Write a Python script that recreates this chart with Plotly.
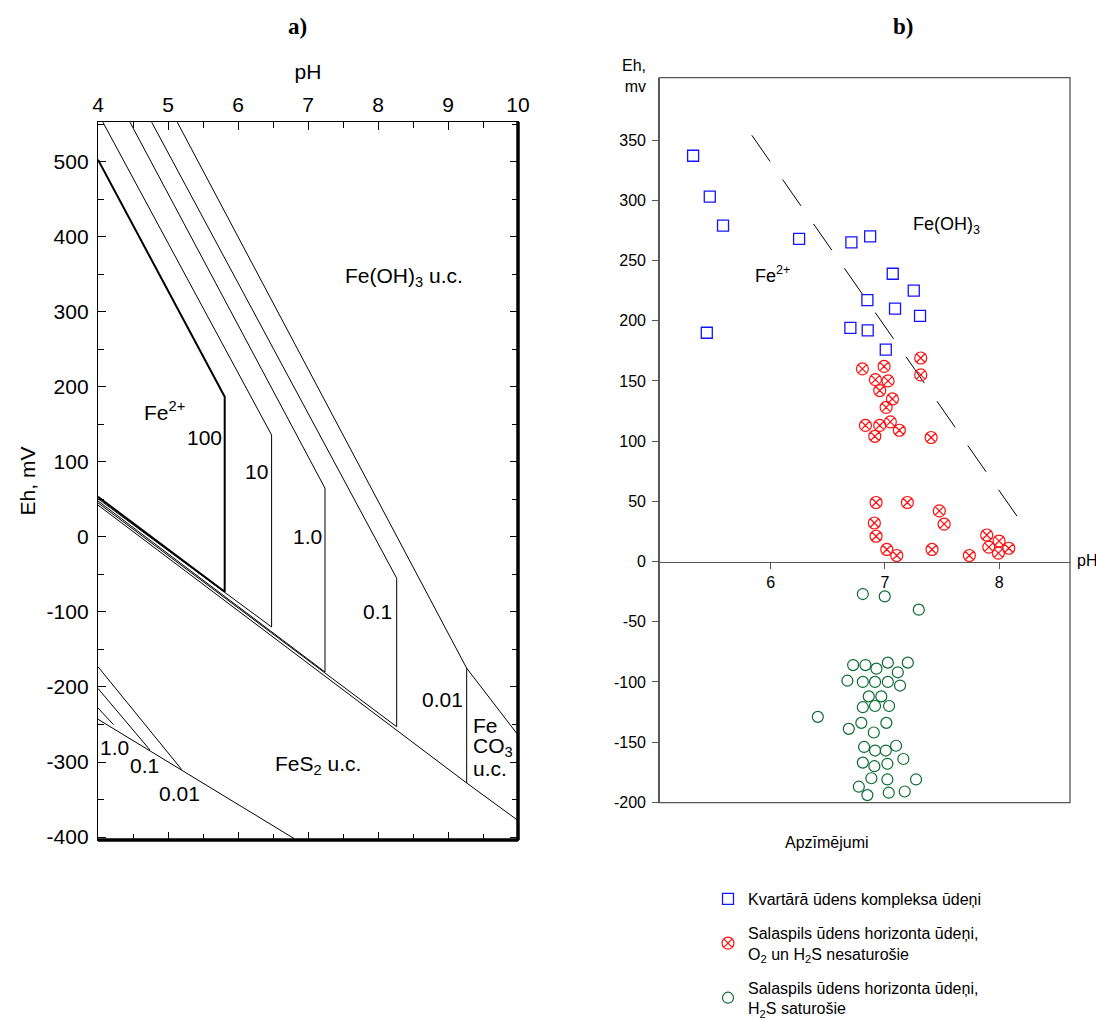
import plotly.graph_objects as go

W, H = 1096, 1019

# ---------------- Panel a) data ----------------
conc_labels = ["100", "10", "1.0", "0.1", "0.01"]
upper_start_ph = [4.0, 4.07, 4.457, 4.767, 5.133]
upper_start_eh = [503, 553, 553, 553, 553]
corner_ph = [5.81, 6.48, 7.243, 8.267, 9.267]
corner_eh = [187, 136, 65, -55, -175]
bottom_eh = [-73, -120, -180, -253, -328]
lower_start_eh = [53.5, 51, 48, 45.5, 42.5]

feco3_ph = [9.267, 10.0]
feco3_upper_eh = [-175, -264]
feco3_lower_eh = [-328, -378]

sulf_labels = ["0.01", "0.1", "1.0"]
sulf_start_eh = [-173, -202, -228]
sulf_end_ph = [5.195, 4.743, 4.22]
sulf_end_eh = [-310, -284, -250]
pyrite_ph = [4.0, 6.80]
pyrite_eh = [-243, -402]

# ---------------- Panel b) data ----------------
kv_ph = [5.32, 5.466, 5.582, 6.248, 6.706, 6.87, 7.068, 7.252, 6.846, 7.088,
         7.307, 6.697, 6.849, 5.44, 7.007]
kv_eh = [337, 303, 279, 268, 265, 270, 239, 225, 217, 210,
         204, 194, 192, 190, 176]

sal1_ph = [7.313, 6.802, 6.992, 7.313, 6.916, 7.027, 6.954, 7.065, 7.01, 6.829,
           6.954, 7.047, 7.126, 6.911, 7.404, 6.922, 7.196, 7.476, 6.907, 7.518,
           6.922, 7.891, 7.999, 7.909, 8.084, 7.016, 7.412, 7.993, 7.103, 7.739]
sal1_eh = [169, 160, 162, 155, 151, 150, 142, 135, 128, 113,
           113, 116, 109, 104, 103, 49, 49, 42, 32, 31,
           21, 22, 17, 12, 11, 10, 10, 7, 5, 5]

sal2_ph = [6.806, 6.998, 7.296, 6.721, 6.829, 7.025, 7.2, 6.925, 7.112, 6.671,
           6.806, 6.913, 7.025, 7.132, 6.858, 6.968, 6.806, 6.913, 7.036, 6.412,
           6.793, 7.012, 6.683, 6.902, 6.817, 7.097, 6.913, 7.007, 7.161, 6.806,
           7.021, 6.907, 6.881, 7.021, 7.272, 6.771, 7.033, 7.173, 6.846]
sal2_eh = [-27, -29, -40, -86, -86, -84, -84, -89, -92, -99,
           -100, -100, -100, -103, -112, -112, -121, -120, -120, -129,
           -134, -134, -139, -142, -154, -153, -157, -157, -164, -167,
           -168, -170, -180, -181, -181, -187, -192, -191, -194]

boundary_ph = [5.834, 8.212]
boundary_eh = [354, 30]

xticks_a = [4, 5, 6, 7, 8, 9, 10]
yticks_a = [-400, -300, -200, -100, 0, 100, 200, 300, 400, 500]
xticks_b = [6, 7, 8]
yticks_b = [-200, -150, -100, -50, 0, 50, 100, 150, 200, 250, 300, 350]

SANS = "Liberation Sans, Arial, sans-serif"
SERIF = "Liberation Serif, Times New Roman, serif"

fig = go.Figure()

# ---- panel a lines ----
for i in range(len(conc_labels)):
    fig.add_trace(go.Scatter(
        x=[upper_start_ph[i], corner_ph[i], corner_ph[i], 4.0],
        y=[upper_start_eh[i], corner_eh[i], bottom_eh[i], lower_start_eh[i]],
        mode="lines", line=dict(color="black", width=2 if i == 0 else 1),
        xaxis="x", yaxis="y", showlegend=False, hoverinfo="skip"))
fig.add_trace(go.Scatter(x=feco3_ph, y=feco3_upper_eh, mode="lines",
                         line=dict(color="black", width=1), xaxis="x", yaxis="y",
                         showlegend=False, hoverinfo="skip"))
fig.add_trace(go.Scatter(x=[corner_ph[-1]] + feco3_ph[1:], y=[bottom_eh[-1]] + feco3_lower_eh[1:],
                         mode="lines", line=dict(color="black", width=1), xaxis="x", yaxis="y",
                         showlegend=False, hoverinfo="skip"))
for i in range(len(sulf_labels)):
    fig.add_trace(go.Scatter(x=[4.0, sulf_end_ph[i]], y=[sulf_start_eh[i], sulf_end_eh[i]],
                             mode="lines", line=dict(color="black", width=1),
                             xaxis="x", yaxis="y", showlegend=False, hoverinfo="skip"))
fig.add_trace(go.Scatter(x=pyrite_ph, y=pyrite_eh, mode="lines",
                         line=dict(color="black", width=1), xaxis="x", yaxis="y",
                         showlegend=False, hoverinfo="skip"))

# ---- panel b ----
fig.add_trace(go.Scatter(x=boundary_ph, y=boundary_eh, mode="lines",
                         line=dict(color="black", width=1, dash="32px,22px"),
                         xaxis="x2", yaxis="y2", showlegend=False, hoverinfo="skip"))
fig.add_trace(go.Scatter(x=kv_ph, y=kv_eh, mode="markers", xaxis="x2", yaxis="y2",
                         name="Kvartārā ūdens kompleksa ūdeņi", legendgroup="a",
                         marker=dict(symbol="square-open", size=11, color="#1414ff",
                                     line=dict(width=1.3, color="#1414ff"))))
fig.add_trace(go.Scatter(x=sal1_ph, y=sal1_eh, mode="markers", xaxis="x2", yaxis="y2",
                         name="Salaspils ūdens horizonta ūdeņi,<br>O<sub>2</sub> un H<sub>2</sub>S nesaturošie",
                         legendgroup="b",
                         marker=dict(symbol="circle-x-open", size=12, color="#ff1010",
                                     line=dict(width=1.2, color="#ff1010"))))
fig.add_trace(go.Scatter(x=sal2_ph, y=sal2_eh, mode="markers", xaxis="x2", yaxis="y2",
                         name="Salaspils ūdens horizonta ūdeņi,<br>H<sub>2</sub>S saturošie",
                         legendgroup="c",
                         marker=dict(symbol="circle-open", size=11, color="#0b6b35",
                                     line=dict(width=1.2, color="#0b6b35"))))

def px(xp):
    return xp / W

def py(yp):
    return 1 - yp / H

def lab(v):
    return str(v)

fig.update_layout(
    width=W, height=H, autosize=False,
    margin=dict(l=0, r=0, t=0, b=0, autoexpand=False),
    paper_bgcolor="white", plot_bgcolor="white",
    font=dict(family=SANS, color="black"),
    xaxis=dict(domain=[px(98), px(518)], range=[4, 10], side="top", anchor="y",
               tickvals=xticks_a, ticktext=[lab(v) for v in xticks_a],
               ticks="inside", ticklen=8, tickwidth=1, tickcolor="black",
               minor=dict(dtick=0.5, tick0=4, ticks="inside", ticklen=6, tickcolor="black"),
               showline=True, linecolor="black", linewidth=1.3, mirror="ticks",
               showgrid=False, zeroline=False, tickfont=dict(size=21),
               title=dict(text="pH", font=dict(size=21), standoff=8), automargin=False),
    yaxis=dict(domain=[py(840), py(122)], range=[-404, 553.3], anchor="x",
               tickvals=yticks_a, ticktext=[lab(v) for v in yticks_a],
               ticks="inside", ticklen=8, tickwidth=1, tickcolor="black",
               minor=dict(dtick=50, tick0=0, ticks="inside", ticklen=6, tickcolor="black"),
               showline=True, linecolor="black", linewidth=1.3, mirror="ticks",
               showgrid=False, zeroline=False, tickfont=dict(size=21), ticklabelstandoff=4,
               title=dict(text="Eh, mV", font=dict(size=21), standoff=5), automargin=False),
    xaxis2=dict(domain=[px(659.3), px(1070)], range=[5.024, 8.62], anchor="free",
                position=py(561.6), tickvals=xticks_b, ticktext=[lab(v) for v in xticks_b],
                ticks="outside", ticklen=6,
                tickcolor="#555", showline=True, linecolor="#555", linewidth=1.3,
                showgrid=False, zeroline=False, tickfont=dict(size=16), automargin=False),
    yaxis2=dict(domain=[py(802.7), py(77.7)], range=[-200.3, 401.8], anchor="x2",
                tickvals=yticks_b, ticktext=[lab(v) for v in yticks_b],
                ticks="outside", ticklen=6, tickcolor="#555",
                showline=True, linecolor="#555", linewidth=1.3,
                showgrid=False, zeroline=False, tickfont=dict(size=16),
                ticklabelstandoff=3, automargin=False),
    legend=dict(x=px(708), y=py(1025), xanchor="left", yanchor="bottom",
                font=dict(size=16, family=SANS), tracegroupgap=10,
                bgcolor="rgba(0,0,0,0)", traceorder="grouped"),
    showlegend=True,
)

shapes = [
    dict(type="line", xref="x domain", yref="y domain", x0=1, x1=1, y0=0, y1=1,
         line=dict(color="black", width=3.5)),
    dict(type="line", xref="x domain", yref="y domain", x0=0, x1=1, y0=0, y1=0,
         line=dict(color="black", width=3.5)),
    dict(type="rect", xref="x2 domain", yref="y2 domain", x0=0, x1=1, y0=0, y1=1,
         line=dict(color="#555", width=1.3)),
]
fig.update_layout(shapes=shapes)

ann = []
def A(text, x, y, size=21, xref="x", yref="y", xanchor="center", yanchor="middle", **kw):
    fam = kw.pop("family", SANS)
    ann.append(dict(text=text, x=x, y=y, xref=xref, yref=yref, showarrow=False,
                    xanchor=xanchor, yanchor=yanchor,
                    font=dict(size=size, family=fam, color="black"), **kw))

A("<b>a)</b>", px(298), py(26), size=23, xref="paper", yref="paper", family=SERIF)
A("<b>b)</b>", px(903), py(27), size=23, xref="paper", yref="paper", family=SERIF)

A("Fe(OH)<sub>3</sub> u.c.", 8.37, 347)
A("Fe<sup>2+</sup>", 4.63, 168, xanchor="left")
A(conc_labels[0], 5.52, 132)
A(conc_labels[1], 6.27, 87)
A(conc_labels[2], 6.99, 0)
A(conc_labels[3], 7.99, -100)
A(conc_labels[4], 8.92, -217)
A("Fe", 9.33, -251, xanchor="left")
A("CO<sub>3</sub>", 9.33, -280, xanchor="left")
A("u.c.", 9.33, -309, xanchor="left")
A("FeS<sub>2</sub> u.c.", 7.14, -304)
A(sulf_labels[2], 4.23, -280)
A(sulf_labels[1], 4.66, -304)
A(sulf_labels[0], 5.16, -342)

A("Fe(OH)<sub>3</sub>", 7.54, 279, size=18, xref="x2", yref="y2")
A("Fe<sup>2+</sup>", 5.845, 238, size=18, xref="x2", yref="y2", xanchor="left")
A("Eh,<br>mv", px(648), py(76), size=16, xref="paper", yref="paper", xanchor="right", align="right")
A("pH", px(1075), py(560), size=16, xref="paper", yref="paper", xanchor="left")
A("Apzīmējumi", px(827), py(842), size=16, xref="paper", yref="paper")

fig.update_layout(annotations=ann)

fig.write_html("out.html", config={"displayModeBar": False},
               post_script="document.body.style.margin='0';document.body.style.overflow='hidden';")
